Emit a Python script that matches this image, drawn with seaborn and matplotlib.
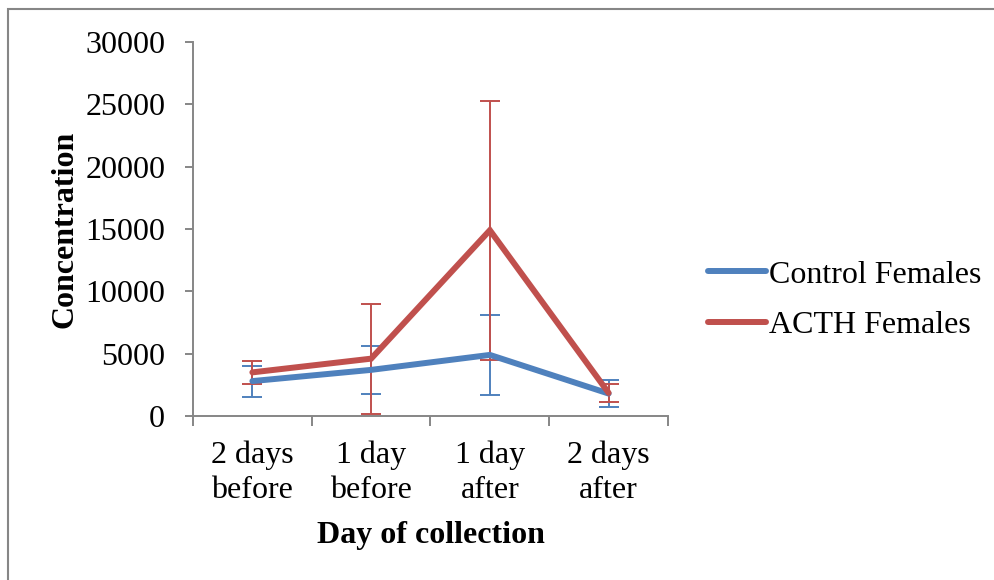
import numpy as np
import pandas as pd
import matplotlib
matplotlib.use("Agg")
import matplotlib.pyplot as plt
import seaborn as sns
from matplotlib.patches import Rectangle

days = ["2 days\nbefore", "1 day\nbefore", "1 day\nafter", "2 days\nafter"]
control_mean = [2800, 3700, 4900, 1800]
control_err = [1250, 1950, 3200, 1100]
acth_mean = [3500, 4600, 14900, 1850]
acth_err = [900, 4400, 10400, 700]

series_names = ["Control Females", "ACTH Females"]
colors = ["#4F81BD", "#C0504D"]

sns.set_theme(style="white")
plt.rcParams["font.family"] = ["Liberation Serif", "DejaVu Serif"]
plt.rcParams["text.color"] = "black"
plt.rcParams["axes.labelcolor"] = "black"

FS = 23

df = pd.DataFrame({
    "Day": days * 2,
    "Concentration": control_mean + acth_mean,
    "Group": [series_names[0]] * 4 + [series_names[1]] * 4,
})

fig = plt.figure(figsize=(9.95, 5.8), dpi=100)
ax = fig.add_axes([193 / 995, 1 - 416 / 580, (668 - 193) / 995, (416 - 42) / 580])

x = np.arange(len(days))
for means, errs, col in [(control_mean, control_err, colors[0]), (acth_mean, acth_err, colors[1])]:
    ax.errorbar(x, means, yerr=errs, fmt="none", ecolor=col, elinewidth=1.4,
                capsize=7, capthick=1.4, zorder=2)

sns.lineplot(data=df, x="Day", y="Concentration", hue="Group", palette=colors,
             linewidth=4.3, ax=ax, sort=False, zorder=3)
for ln in ax.get_lines():
    ln.set_solid_capstyle("round")
    ln.set_solid_joinstyle("miter")

ax.set_xlim(-0.5, 3.5)
ax.set_ylim(0, 30000)
ax.set_yticks(np.arange(0, 30001, 5000))
ax.set_xticks(x)
ax.set_xticklabels(days, fontsize=FS, linespacing=1.27)
ax.set_xticks(np.arange(-0.5, 3.6, 1), minor=True)
ax.tick_params(axis="x", which="major", bottom=True, length=0, pad=18, labelcolor="black")
ax.tick_params(axis="x", which="minor", bottom=True, length=7, width=1.4,
               color="#868686", direction="out")
ax.tick_params(axis="y", left=True, labelsize=FS, length=6, width=1.4, color="#868686",
               direction="out", pad=14, labelcolor="black")

ax.set_xlabel("Day of collection", fontsize=FS, fontweight="bold", labelpad=11)
ax.set_ylabel("Concentration", fontsize=FS, fontweight="bold", labelpad=4)

for side in ["top", "right"]:
    ax.spines[side].set_visible(False)
for side in ["left", "bottom"]:
    ax.spines[side].set_color("#868686")
    ax.spines[side].set_linewidth(1.4)

handles, labels = ax.get_legend_handles_labels()
for h in handles:
    h.set_solid_capstyle("round")
ax.legend(handles, labels, loc="center left", bbox_to_anchor=(708 / 995, 1 - 300 / 580),
          bbox_transform=fig.transFigure, frameon=False, fontsize=FS,
          handlelength=1.8, handletextpad=0.1, labelspacing=0.65, borderaxespad=0,
          borderpad=0)

fig.patches.append(Rectangle((8 / 995, -0.05), 1.1, 1 - 9 / 580 + 0.05, transform=fig.transFigure,
                             fill=False, edgecolor="#868686", linewidth=1.5, zorder=-1))

fig.savefig("out.png", dpi=100)
